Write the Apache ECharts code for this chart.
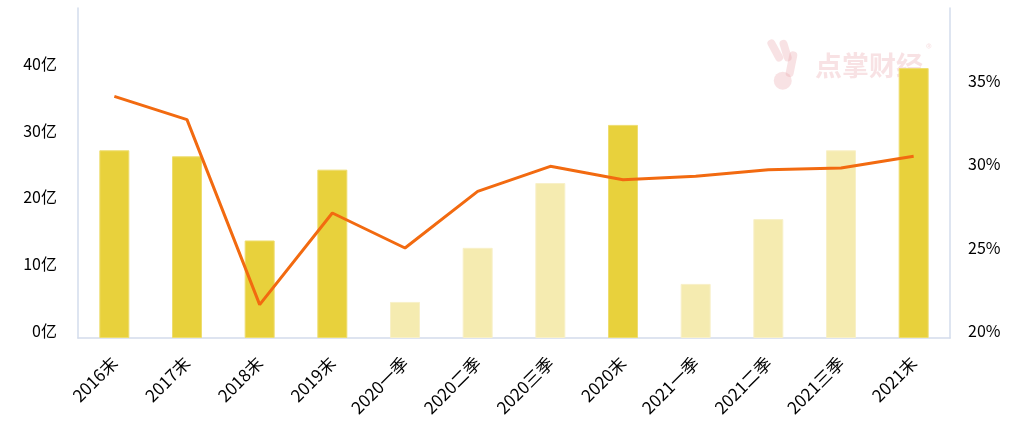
<!DOCTYPE html>
<html>
<head>
<meta charset="utf-8">
<script src="https://cdn.jsdelivr.net/npm/echarts@6/dist/echarts.min.js"></script>
<style>
html,body{margin:0;padding:0;background:#fff;}
#c{width:1021px;height:443px;}
</style>
</head>
<body>
<div id="c"></div>
<script>
var categories = ['2016末','2017末','2018末','2019末','2020一季','2020二季','2020三季','2020末','2021一季','2021二季','2021三季','2021末'];
var barValues = [28.1, 27.2, 14.6, 25.2, 5.4, 13.5, 23.2, 31.9, 8.1, 17.8, 28.1, 40.4];
var isYearEnd = [true, true, true, true, false, false, false, true, false, false, false, true];
var ratioValues = [34.5, 33.1, 22.0, 27.5, 25.4, 28.8, 30.3, 29.5, 29.7, 30.1, 30.2, 30.9];

var DARK = '#E8D13C', LIGHT = '#F5EBB0';
var font = '"Noto Sans CJK SC", "Noto Sans", sans-serif';
var axisLineColor = '#D3DCEC';
var wm = 'rgba(232,165,170,0.32)';

var chart = echarts.init(document.getElementById('c'));
chart.setOption({
  animation: false,
  backgroundColor: '#fff',
  grid: {left: 78, right: 71, top: 8, bottom: 105},
  graphic: [{
    type: 'text', left: 815, top: 52, z: 0,
    style: {text: '点掌财经', fontSize: 27, fontWeight: 'bold', fontFamily: font, fill: wm}
  }, {
    type: 'text', left: 926, top: 42, z: 0,
    style: {text: '®', fontSize: 12, fontFamily: font, fill: wm}
  }, {
    type: 'group', left: 766, top: 38, z: 0,
    children: [
      {type: 'rect', shape: {x: 6, y: 0, width: 8, height: 24, r: 4}, rotation: 0.5, style: {fill: wm}},
      {type: 'rect', shape: {x: 18, y: 2, width: 8, height: 22, r: 4}, rotation: 0.3, style: {fill: wm}},
      {type: 'rect', shape: {x: 30, y: 0, width: 8, height: 26, r: 4}, rotation: -0.2, style: {fill: wm}},
      {type: 'circle', shape: {cx: 22, cy: 36, r: 9}, style: {fill: wm}}
    ]
  }],
  xAxis: {
    type: 'category',
    data: categories,
    axisLine: {show: true, lineStyle: {color: axisLineColor, width: 1.5}},
    axisTick: {show: false},
    axisLabel: {rotate: 45, fontSize: 17, color: '#000', fontFamily: font, margin: 22, interval: 0}
  },
  yAxis: [{
    type: 'value', min: 0, max: 49.4, interval: 10,
    axisLine: {show: true, lineStyle: {color: axisLineColor, width: 1.5}},
    axisTick: {show: false},
    splitLine: {show: false},
    axisLabel: {showMaxLabel: false, fontSize: 16, color: '#000', fontFamily: font, margin: 21,
      verticalAlign: 'bottom', lineHeight: 14,
      formatter: function (v) { return v + '亿'; }}
  }, {
    type: 'value', min: 20, max: 39.8, interval: 5,
    axisLine: {show: true, lineStyle: {color: axisLineColor, width: 1.5}},
    axisTick: {show: false},
    splitLine: {show: false},
    axisLabel: {showMaxLabel: false, fontSize: 16, color: '#000', fontFamily: font, margin: 18,
      verticalAlign: 'bottom', lineHeight: 14,
      formatter: function (v) { return v + '%'; }}
  }],
  series: [{
    type: 'bar',
    yAxisIndex: 0,
    barWidth: 30,
    z: 2,
    data: barValues.map(function (v, i) {
      return {value: v, itemStyle: {color: isYearEnd[i] ? DARK : LIGHT, borderColor: isYearEnd[i] ? '#EEDD70' : '#F8F0C8', borderWidth: 1}};
    })
  }, {
    type: 'line',
    yAxisIndex: 1,
    data: ratioValues,
    symbol: 'none',
    z: 3,
    lineStyle: {color: '#F26A10', width: 3}
  }]
});
</script>
</body>
</html>
